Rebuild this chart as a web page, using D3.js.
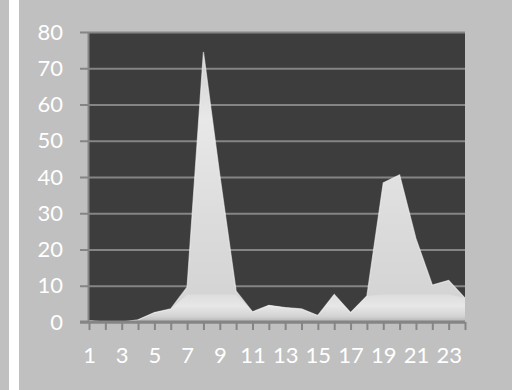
<!DOCTYPE html>
<html>
<head>
<meta charset="utf-8">
<script src="https://cdn.jsdelivr.net/npm/d3@7"></script>
<style>
  html, body { margin: 0; padding: 0; background: #c0c0c0; }
  svg { display: block; }
</style>
</head>
<body>
<svg id="chart" width="512" height="390"></svg>
<script>
const categories = ["1","2","3","4","5","6","7","8","9","10","11","12","13","14","15","16","17","18","19","20","21","22","23","24"];
const values = [0.4, 0, 0, 0.6, 2.6, 3.6, 9.6, 74.5, 40.5, 8.5, 2.8, 4.6, 4.0, 3.6, 1.8, 7.6, 2.6, 7.2, 38.4, 40.6, 23, 10.2, 11.5, 6.6];
const yTicks = [0, 10, 20, 30, 40, 50, 60, 70, 80];
const xLabels = ["1","3","5","7","9","11","13","15","17","19","21","23"];

(function () {
const svg = d3.select("#chart");
const W = 512, H = 390;
const pL = 89, pR = 465, pT = 32, pB = 322;

svg.append("rect").attr("width", W).attr("height", H).attr("fill", "#c0c0c0");
svg.append("rect").attr("x", 9).attr("y", 0).attr("width", 10).attr("height", H).attr("fill", "#ffffff");

const x = d3.scalePoint().domain(categories).range([pL, pR]);
const y = d3.scaleLinear().domain([0, 80]).range([pB, pT]);

svg.append("rect").attr("x", pL).attr("y", pT).attr("width", pR - pL).attr("height", pB - pT).attr("fill", "#3d3d3d");

const grid = svg.append("g").attr("transform", `translate(${pL},0)`)
  .call(d3.axisLeft(y).tickValues(yTicks).tickSize(-(pR - pL)).tickFormat(""));
grid.select(".domain").remove();
grid.selectAll("line").attr("stroke", "#858585").attr("stroke-width", 2);

const defs = svg.append("defs");
const g1 = defs.append("linearGradient").attr("id", "areaGrad")
  .attr("gradientUnits", "userSpaceOnUse").attr("x1", 0).attr("y1", pT).attr("x2", 0).attr("y2", pB);
g1.append("stop").attr("offset", "0%").attr("stop-color", "#5a5a5a");
g1.append("stop").attr("offset", "10%").attr("stop-color", "#d2d2d2");
g1.append("stop").attr("offset", "30%").attr("stop-color", "#e8e8e8");
g1.append("stop").attr("offset", "70%").attr("stop-color", "#dadada");
g1.append("stop").attr("offset", "100%").attr("stop-color", "#d2d2d2");

const g2 = defs.append("linearGradient").attr("id", "slabGrad")
  .attr("gradientUnits", "userSpaceOnUse").attr("x1", 0).attr("y1", y(8)).attr("x2", 0).attr("y2", pB);
g2.append("stop").attr("offset", "0%").attr("stop-color", "#dedede");
g2.append("stop").attr("offset", "45%").attr("stop-color", "#eeeeee");
g2.append("stop").attr("offset", "80%").attr("stop-color", "#d4d4d4");
g2.append("stop").attr("offset", "100%").attr("stop-color", "#a8a8a8");

const area = d3.area()
  .x((d, i) => x(categories[i]))
  .y0(pB)
  .y1(d => y(d));
svg.append("path").datum(values).attr("d", area).attr("fill", "url(#areaGrad)");

const slab = d3.area()
  .x((d, i) => x(categories[i]))
  .y0(pB)
  .y1(d => y(Math.min(d, 7.6)));
svg.append("path").datum(values).attr("d", slab).attr("fill", "url(#slabGrad)").attr("opacity", 0.75);

svg.append("path").datum(values)
  .attr("d", d3.line().x((d, i) => x(categories[i])).y(d => y(d)))
  .attr("fill", "none").attr("stroke", "#f8f8f8").attr("stroke-width", 1.2).attr("stroke-opacity", 0.6);

const yAxis = svg.append("g").attr("transform", `translate(${pL},0)`)
  .call(d3.axisLeft(y).tickValues(yTicks).tickSize(9).tickPadding(17));
yAxis.select(".domain").attr("stroke", "#858585").attr("stroke-width", 2).attr("d", `M-0.5,${pT}V${pB}`);
yAxis.selectAll("line").attr("stroke", "#858585").attr("stroke-width", 2);
yAxis.selectAll("text").attr("fill", "#ffffff").attr("font-family", "Lato, 'Open Sans', sans-serif").attr("font-size", 22);

const xAxis = svg.append("g").attr("transform", `translate(0,${pB})`)
  .call(d3.axisBottom(x).tickSize(8).tickPadding(17).tickFormat(d => xLabels.includes(d) ? d : ""));
xAxis.select(".domain").attr("stroke", "#858585").attr("stroke-width", 3).attr("d", `M${pL - 9},0H${pR}`);
xAxis.selectAll("line").attr("stroke", "#858585").attr("stroke-width", 2);
xAxis.selectAll("text").attr("fill", "#ffffff").attr("font-family", "Lato, 'Open Sans', sans-serif").attr("font-size", 22);
})();
</script>
</body>
</html>
